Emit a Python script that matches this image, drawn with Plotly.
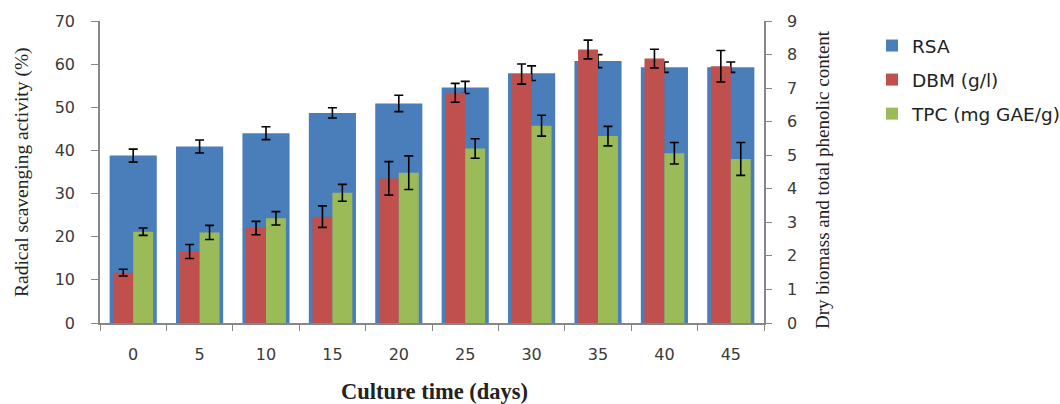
import plotly.graph_objects as go

days = ["0", "5", "10", "15", "20", "25", "30", "35", "40", "45"]
rsa = [38.8, 40.9, 44.0, 48.7, 50.9, 54.6, 57.9, 60.7, 59.3, 59.3]
rsa_err = [1.5, 1.5, 1.5, 1.2, 1.9, 1.4, 1.7, 1.5, 1.2, 1.2]
dbm = [1.50, 2.13, 2.83, 3.17, 4.31, 6.86, 7.42, 8.15, 7.88, 7.65]
dbm_err = [0.10, 0.21, 0.20, 0.32, 0.50, 0.28, 0.30, 0.28, 0.28, 0.47]
tpc = [2.72, 2.70, 3.12, 3.88, 4.48, 5.20, 5.88, 5.57, 5.06, 4.89]
tpc_err = [0.11, 0.21, 0.20, 0.25, 0.50, 0.29, 0.31, 0.29, 0.32, 0.49]

BLUE = "#4A7EBB"
RED = "#C0504D"
GREEN = "#9BBB59"
AXIS = "#868686"
TICKFONT = dict(family="DejaVu Sans", size=16, color="#3a3a3a")

eb = lambda arr: dict(type="data", array=arr, visible=True, color="black", thickness=1.6, width=4.5)

fig = go.Figure()
fig.add_trace(go.Bar(x=days, y=rsa, name="RSA", marker=dict(color=BLUE, line=dict(width=0)),
                     width=0.71, offset=-0.355, error_y=eb(rsa_err), yaxis="y", legendgroup="a"))
fig.add_trace(go.Bar(x=days, y=dbm, name="DBM (g/l)", marker=dict(color=RED, line=dict(width=0)),
                     width=0.3, offset=-0.3, error_y=eb(dbm_err), yaxis="y2", legendgroup="b"))
fig.add_trace(go.Bar(x=days, y=tpc, name="TPC (mg GAE/g)", marker=dict(color=GREEN, line=dict(width=0)),
                     width=0.3, offset=0.0, error_y=eb(tpc_err), yaxis="y2", legendgroup="c"))

fig.update_layout(
    width=1060, height=404,
    margin=dict(l=100, r=296, t=21, b=81, autoexpand=False),
    paper_bgcolor="white", plot_bgcolor="white",
    barmode="overlay",
    showlegend=True,
    legend=dict(x=(872 - 100) / 664, y=(323 - 27) / 302, xanchor="left", yanchor="top",
                font=dict(family="DejaVu Sans", size=18.5, color="#222"),
                tracegroupgap=7, itemwidth=30),
    xaxis=dict(type="category", tickson="boundaries", ticks="outside", ticklen=6,
               tickcolor=AXIS, showline=True, linecolor=AXIS, linewidth=1.5,
               showgrid=False, tickfont=TICKFONT, ticklabelstandoff=16),
    yaxis=dict(range=[0, 70], dtick=10, ticks="outside", ticklen=7, tickcolor=AXIS,
               showline=True, linecolor=AXIS, linewidth=1.5, showgrid=False, zeroline=False,
               tickfont=TICKFONT, ticklabelstandoff=13),
    yaxis2=dict(range=[0, 9], dtick=1, overlaying="y", side="right", ticks="outside",
                ticklen=6, tickcolor=AXIS, showline=True, linecolor=AXIS, linewidth=1.5,
                showgrid=False, zeroline=False, tickfont=TICKFONT, ticklabelstandoff=12),
    annotations=[
        dict(text="Radical scavenging activity (%)", xref="paper", yref="paper",
             x=(22 - 100) / 664, y=(323 - 172) / 302, textangle=-90, showarrow=False,
             xanchor="center", yanchor="middle",
             font=dict(family="Liberation Serif", size=19.5, color="#222")),
        dict(text="Dry biomass and total phenolic content", xref="paper", yref="paper",
             x=(822 - 100) / 664, y=(323 - 180) / 302, textangle=-90, showarrow=False,
             xanchor="center", yanchor="middle",
             font=dict(family="Liberation Serif", size=19, color="#222")),
        dict(text="<b>Culture time (days)</b>", xref="paper", yref="paper",
             x=(434 - 100) / 664, y=(323 - 391) / 302, showarrow=False,
             xanchor="center", yanchor="middle",
             font=dict(family="Liberation Serif", size=22.5, color="#222")),
    ],
)

fig.write_html("out.html")
